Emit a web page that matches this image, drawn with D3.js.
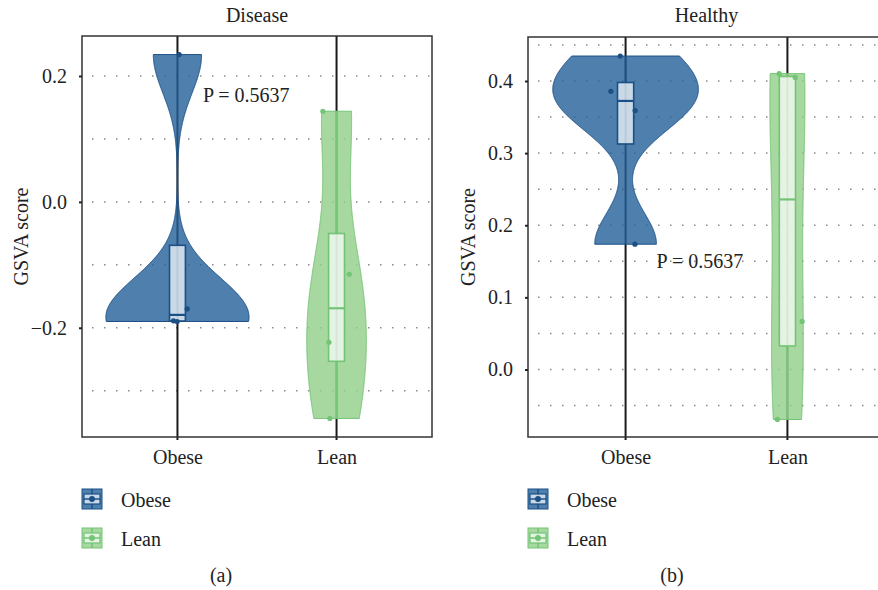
<!DOCTYPE html>
<html>
<head>
<meta charset="utf-8">
<script src="https://cdn.jsdelivr.net/npm/d3@7"></script>
<style>
  body { margin: 0; background: #fff; }
  text { font-family: "Liberation Serif", "DejaVu Serif", serif; fill: #222; }
</style>
</head>
<body>
<svg id="chart" width="878" height="590"></svg>
<script>
// groups and GSVA scores
var groups = ["Obese", "Lean"];
var diseaseObese = [0.234, -0.170, -0.189, -0.190];
var diseaseLean = [0.144, -0.115, -0.223, -0.344];
var healthyObese = [0.4346, 0.3857, 0.359, 0.1737];
var healthyLean = [0.4102, 0.405, 0.0666, -0.0693];
// horizontal jitter of each point, in category steps
var diseaseObeseJit = [0.011, 0.061, -0.025, -0.002];
var diseaseLeanJit = [-0.086, 0.080, -0.048, -0.042];
var healthyObeseJit = [-0.033, -0.091, 0.059, 0.058];
var healthyLeanJit = [-0.051, 0.048, 0.091, -0.062];
var pValues = ["P = 0.5637", "P = 0.5637"];
var panelTitles = ["Disease", "Healthy"];
var panelLetters = ["(a)", "(b)"];
var diseaseTicks = [-0.2, 0.0, 0.2];
var diseaseGrid = [-0.3, -0.2, -0.1, 0.0, 0.1, 0.2];
var healthyTicks = [0.0, 0.1, 0.2, 0.3, 0.4];
var healthyGrid = [-0.05, 0.0, 0.05, 0.1, 0.15, 0.2, 0.25, 0.3, 0.35, 0.4, 0.45];

var fills = { Obese: "#235f98", Lean: "#90ce88" };
var strokes = { Obese: "#1b5087", Lean: "#74c476" };
var fontSize = "20px";

var svg = d3.select("#chart");

// silverman rule of thumb like R's bw.nrd0
function nrd0(v) {
    var s = v.slice().sort(d3.ascending);
    var sd = d3.deviation(s);
    var iqr = d3.quantile(s, 0.75) - d3.quantile(s, 0.25);
    var lo = Math.min(sd, iqr / 1.34);
    return 0.9 * lo * Math.pow(s.length, -0.2);
}

function kde(v) {
    var bw = nrd0(v);
    var lo = d3.min(v), hi = d3.max(v);
    var out = [];
    for (var i = 0; i < 512; i++) {
        var y = lo + (hi - lo) * i / 511;
        var dens = d3.mean(v, function(p) {
            var u = (y - p) / bw;
            return Math.exp(-0.5 * u * u) / (Math.sqrt(2 * Math.PI) * bw);
        });
        out.push({ v: y, d: dens });
    }
    return out;
}

function drawPanel(cfg) {
    var g = svg.append("g");

    var x = d3.scalePoint().domain(groups).range([cfg.left, cfg.right]).padding(cfg.pad);
    var y = d3.scaleLinear().domain(cfg.domain).range([cfg.bottom, cfg.top]);
    var step = x.step();

    // dotted horizontal grid
    g.selectAll(".grid")
        .data(cfg.grid)
        .enter().append("line")
        .attr("x1", cfg.left + 10).attr("x2", cfg.right)
        .attr("y1", function(d) { return y(d); })
        .attr("y2", function(d) { return y(d); })
        .attr("stroke", "#8a8a8a")
        .attr("stroke-width", 1.5)
        .attr("stroke-dasharray", "1.5 10.5");

    // black vertical lines at each group
    g.selectAll(".vline")
        .data(groups)
        .enter().append("line")
        .attr("x1", function(d) { return x(d); })
        .attr("x2", function(d) { return x(d); })
        .attr("y1", cfg.top).attr("y2", cfg.bottom + 3)
        .attr("stroke", "#1a1a1a")
        .attr("stroke-width", 2);

    var sets = groups.map(function(k, i) {
        return { key: k, values: cfg.values[i], jit: cfg.jit[i], dens: kde(cfg.values[i]) };
    });
    var maxD = d3.max(sets, function(s) { return d3.max(s.dens, function(d) { return d.d; }); });
    var w = d3.scaleLinear().domain([0, maxD]).range([0, 0.45 * step]);

    sets.forEach(function(s) {
        var cx = x(s.key);
        var area = d3.area()
            .x0(function(d) { return cx - w(d.d); })
            .x1(function(d) { return cx + w(d.d); })
            .y(function(d) { return y(d.v); });

        g.append("path")
            .datum(s.dens)
            .attr("d", area)
            .attr("fill", fills[s.key])
            .attr("fill-opacity", 0.8)
            .attr("stroke", strokes[s.key])
            .attr("stroke-width", 1);

        var sorted = s.values.slice().sort(d3.ascending);
        var q1 = d3.quantile(sorted, 0.25), med = d3.quantile(sorted, 0.5), q3 = d3.quantile(sorted, 0.75);
        var iqr = q3 - q1;
        var upper = d3.max(sorted.filter(function(v) { return v <= q3 + 1.5 * iqr; }));
        var lower = d3.min(sorted.filter(function(v) { return v >= q1 - 1.5 * iqr; }));
        var bw = 0.1 * step;

        // whiskers
        g.append("line")
            .attr("x1", cx).attr("x2", cx)
            .attr("y1", y(q3)).attr("y2", y(upper))
            .attr("stroke", strokes[s.key]).attr("stroke-width", 1.5);
        g.append("line")
            .attr("x1", cx).attr("x2", cx)
            .attr("y1", y(q1)).attr("y2", y(lower))
            .attr("stroke", strokes[s.key]).attr("stroke-width", 1.5);

        g.append("rect")
            .attr("x", cx - bw / 2).attr("width", bw)
            .attr("y", y(q3)).attr("height", y(q1) - y(q3))
            .attr("fill", "#fff").attr("fill-opacity", 0.7)
            .attr("stroke", strokes[s.key]).attr("stroke-width", 1.6);

        g.append("line")
            .attr("x1", cx - bw / 2).attr("x2", cx + bw / 2)
            .attr("y1", y(med)).attr("y2", y(med))
            .attr("stroke", strokes[s.key]).attr("stroke-width", 2.2);

        g.selectAll(".pt-" + s.key)
            .data(s.values)
            .enter().append("circle")
            .attr("cx", function(d, i) { return cx + s.jit[i] * step; })
            .attr("cy", function(d) { return y(d); })
            .attr("r", 2.6)
            .attr("fill", strokes[s.key]);
    });

    // frame
    g.append("rect")
        .attr("x", cfg.left).attr("y", cfg.top)
        .attr("width", cfg.right - cfg.left).attr("height", cfg.bottom - cfg.top)
        .attr("fill", "none").attr("stroke", "#333").attr("stroke-width", 1.5);

    // y axis
    var yAxis = d3.axisLeft(y).tickValues(cfg.ticks).tickFormat(d3.format(".1f")).tickSize(3).tickPadding(12);
    var ya = g.append("g").attr("transform", "translate(" + cfg.left + ",0)").call(yAxis);
    ya.select(".domain").remove();
    ya.selectAll("line").attr("stroke", "#222").attr("stroke-width", 2);
    ya.selectAll("text").style("font-size", fontSize).style("font-family", "Liberation Serif").attr("fill", "#222");

    // x axis
    var xAxis = d3.axisBottom(x).tickSize(0).tickPadding(13);
    var xa = g.append("g").attr("transform", "translate(0," + cfg.bottom + ")").call(xAxis);
    xa.select(".domain").remove();
    xa.selectAll("text").style("font-size", fontSize).style("font-family", "Liberation Serif").attr("fill", "#222");

    g.append("text")
        .attr("x", (cfg.left + cfg.right) / 2).attr("y", 22)
        .attr("text-anchor", "middle").style("font-size", fontSize)
        .text(cfg.title);

    g.append("text")
        .attr("transform", "translate(" + cfg.labelX + "," + ((cfg.top + cfg.bottom) / 2) + ") rotate(-90)")
        .attr("text-anchor", "middle").style("font-size", fontSize)
        .text("GSVA score");

    g.append("text")
        .attr("x", x("Obese") + cfg.pDx).attr("y", y(cfg.pY))
        .style("font-size", fontSize)
        .text(cfg.pText);

    // legend
    groups.forEach(function(k, i) {
        var lx = cfg.left, ly = 489 + i * 39;
        var key = g.append("g").attr("transform", "translate(" + lx + "," + ly + ")");
        key.append("rect").attr("width", 20).attr("height", 20)
            .attr("fill", fills[k]).attr("fill-opacity", 0.8)
            .attr("stroke", strokes[k]).attr("stroke-width", 1);
        key.append("line").attr("x1", 10).attr("x2", 10).attr("y1", 0).attr("y2", 20)
            .attr("stroke", strokes[k]).attr("stroke-width", 1.5);
        key.append("rect").attr("x", 2).attr("y", 5).attr("width", 16).attr("height", 10)
            .attr("fill", "#fff").attr("fill-opacity", 0.7)
            .attr("stroke", strokes[k]).attr("stroke-width", 1.2);
        key.append("line").attr("x1", 2).attr("x2", 18).attr("y1", 10).attr("y2", 10)
            .attr("stroke", strokes[k]).attr("stroke-width", 1.5);
        key.append("circle").attr("cx", 10).attr("cy", 10).attr("r", 3).attr("fill", strokes[k]);
        g.append("text").attr("x", lx + 39).attr("y", ly + 17.5)
            .style("font-size", fontSize).text(k);
    });

    g.append("text")
        .attr("x", cfg.letterX).attr("y", 582)
        .attr("text-anchor", "middle").style("font-size", fontSize)
        .text(cfg.letter);
}

drawPanel({
    left: 82, right: 432, top: 36, bottom: 437, pad: 0.6,
    domain: [-0.3735, 0.2635],
    values: [diseaseObese, diseaseLean], jit: [diseaseObeseJit, diseaseLeanJit],
    grid: diseaseGrid, ticks: diseaseTicks,
    title: panelTitles[0], letter: panelLetters[0], letterX: 221,
    labelX: 28, pText: pValues[0], pDx: 25.5, pY: 0.1587
});

drawPanel({
    left: 528, right: 885, top: 37, bottom: 437, pad: 0.603,
    domain: [-0.0936, 0.461],
    values: [healthyObese, healthyLean], jit: [healthyObeseJit, healthyLeanJit],
    grid: healthyGrid, ticks: healthyTicks,
    title: panelTitles[1], letter: panelLetters[1], letterX: 672,
    labelX: 475, pText: pValues[1], pDx: 31, pY: 0.1413
});
</script>
</body>
</html>
